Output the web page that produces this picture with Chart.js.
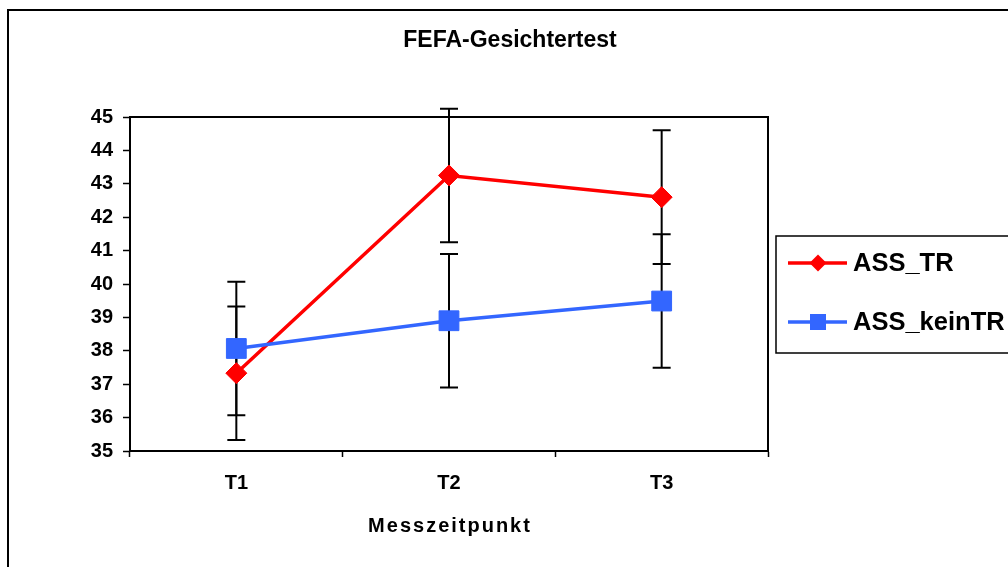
<!DOCTYPE html>
<html lang="de">
<head>
  <meta charset="UTF-8">
  <title>FEFA-Gesichtertest</title>
  <script src="https://cdn.jsdelivr.net/npm/chart.js@4.4.0/dist/chart.umd.min.js"></script>
  <style>
    body {
      margin: 0;
      background-color: #ffffff;
    }

    #wrap {
      position: relative;
      width: 1008px;
      height: 567px;
    }
  </style>
</head>
<body>
  <div id="wrap"><canvas id="chart"></canvas></div>

  <script>
    // Daten
    const zeitpunkte = ['T1', 'T2', 'T3'];
    const assTR = [37.33, 43.25, 42.6];
    const assKeinTR = [38.07, 38.9, 39.49];
    const fehlerTR = [2, 2, 2];
    const fehlerKeinTR = [2, 2, 2];
    const yMin = 35;
    const yMax = 45;
    const yStep = 1;

    const titel = 'FEFA-Gesichtertest';
    const xTitel = 'Messzeitpunkt';
    const schrift = '"Liberation Sans", Arial, sans-serif';

    Chart.defaults.font.family = schrift;

    // Fehlerbalken (unter den Markern)
    const fehlerbalken = {
      id: 'fehlerbalken',
      beforeDatasetsDraw(chart) {
        const ctx = chart.ctx;
        const yScale = chart.scales.y;
        ctx.save();
        ctx.strokeStyle = '#000000';
        ctx.lineWidth = 2;
        chart.data.datasets.forEach((ds, i) => {
          const meta = chart.getDatasetMeta(i);
          meta.data.forEach((pt, j) => {
            const err = ds.fehler[j];
            const top = yScale.getPixelForValue(ds.data[j] + err);
            const bot = yScale.getPixelForValue(ds.data[j] - err);
            ctx.beginPath();
            ctx.moveTo(pt.x, top);
            ctx.lineTo(pt.x, bot);
            ctx.moveTo(pt.x - 9, top);
            ctx.lineTo(pt.x + 9, top);
            ctx.moveTo(pt.x - 9, bot);
            ctx.lineTo(pt.x + 9, bot);
            ctx.stroke();
          });
        });
        ctx.restore();
      }
    };

    function marker(ctx, style, x, y, r, color) {
      ctx.fillStyle = color;
      ctx.beginPath();
      if (style === 'rectRot') {
        ctx.moveTo(x, y - r);
        ctx.lineTo(x + r, y);
        ctx.lineTo(x, y + r);
        ctx.lineTo(x - r, y);
        ctx.closePath();
      } else {
        ctx.rect(x - r, y - r, 2 * r, 2 * r);
      }
      ctx.fill();
    }

    // Rahmen, Titel, Achsentitel und Legende
    const rahmen = {
      id: 'rahmen',
      afterDraw(chart) {
        const ctx = chart.ctx;
        const a = chart.chartArea;
        ctx.save();

        ctx.strokeStyle = '#000000';
        ctx.lineWidth = 2;
        ctx.strokeRect(8, 10, 1100, 700);
        ctx.strokeRect(a.left, a.top, a.right - a.left, a.bottom - a.top);

        ctx.fillStyle = '#000000';
        ctx.textAlign = 'center';
        ctx.textBaseline = 'middle';
        ctx.font = 'bold 23px ' + schrift;
        ctx.fillText(titel, 510, 41);

        ctx.font = 'bold 20px ' + schrift;
        ctx.letterSpacing = '2px';
        ctx.fillText(xTitel, (a.left + a.right) / 2 + 1, 526);
        ctx.letterSpacing = '0px';

        // Legende
        ctx.lineWidth = 1.5;
        ctx.strokeRect(776, 236, 300, 117);
        const zeilen = [263, 322];
        ctx.font = 'bold 25.5px ' + schrift;
        ctx.textAlign = 'left';
        chart.data.datasets.forEach((ds, i) => {
          const y = zeilen[i];
          ctx.strokeStyle = ds.borderColor;
          ctx.lineWidth = 3.5;
          ctx.beginPath();
          ctx.moveTo(788, y);
          ctx.lineTo(847, y);
          ctx.stroke();
          marker(ctx, ds.pointStyle, 818, y, ds.pointStyle === 'rectRot' ? 8.5 : 8, ds.borderColor);
          ctx.fillStyle = '#000000';
          ctx.fillText(ds.label, 853, y + 1);
        });

        ctx.restore();
      }
    };

    new Chart(document.getElementById('chart'), {
      type: 'line',
      data: {
        labels: zeitpunkte,
        datasets: [{
          label: 'ASS_TR',
          data: assTR,
          fehler: fehlerTR,
          borderColor: '#FF0000',
          backgroundColor: '#FF0000',
          borderWidth: 3.5,
          pointStyle: 'rectRot',
          pointRadius: 10.5,
          pointBorderWidth: 1,
          pointBackgroundColor: '#FF0000',
          pointBorderColor: '#FF0000',
          order: 1
        }, {
          label: 'ASS_keinTR',
          data: assKeinTR,
          fehler: fehlerKeinTR,
          borderColor: '#3366FF',
          backgroundColor: '#3366FF',
          borderWidth: 3.5,
          pointStyle: 'rect',
          pointRadius: 14,
          pointBorderWidth: 1,
          pointBackgroundColor: '#3366FF',
          pointBorderColor: '#3366FF',
          order: 0
        }]
      },
      options: {
        responsive: true,
        maintainAspectRatio: false,
        animation: false,
        layout: { padding: { top: 117, right: 240, bottom: 0, left: 0 } },
        plugins: {
          legend: { display: false },
          title: { display: false },
          tooltip: { enabled: false }
        },
        scales: {
          x: {
            offset: true,
            grid: { offset: true, drawOnChartArea: false, tickLength: 6, tickColor: '#000000', tickWidth: 1.5 },
            border: { color: '#000000', width: 2 },
            ticks: { color: '#000000', font: { size: 20, weight: 'bold' }, padding: 14 },
            afterFit: s => { s.height = 116; }
          },
          y: {
            min: yMin,
            max: yMax,
            grid: { drawOnChartArea: false, tickLength: 7, tickColor: '#000000', tickWidth: 1.5 },
            border: { color: '#000000', width: 2 },
            ticks: { stepSize: yStep, color: '#000000', font: { size: 20, weight: 'bold' }, padding: 10 },
            afterFit: s => { s.width = 130; }
          }
        }
      },
      plugins: [fehlerbalken, rahmen]
    });
  </script>
</body>
</html>
